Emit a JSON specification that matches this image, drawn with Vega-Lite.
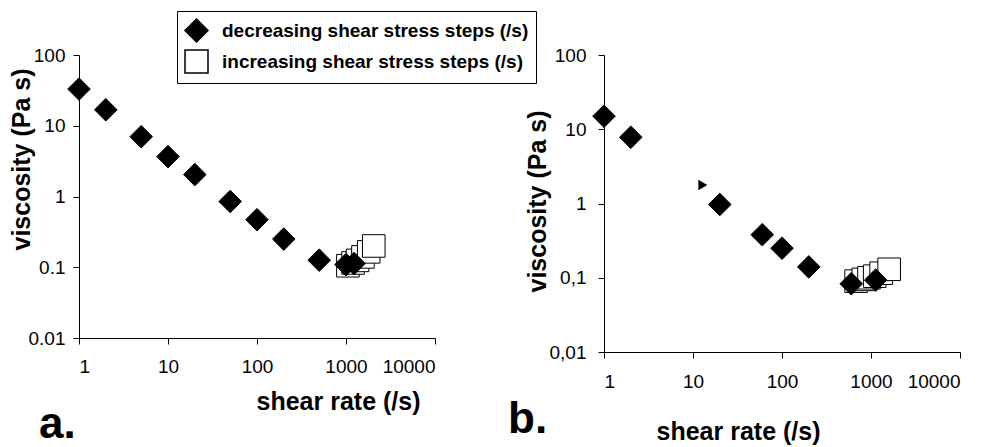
{
  "$schema": "https://vega.github.io/schema/vega-lite/v6.json",
  "background": "white",
  "padding": {"left": 8, "top": 10, "right": 4, "bottom": 0},
  "bounds": "flush",
  "spacing": 169,
  "resolve": {
    "scale": {"shape": "independent", "fill": "independent"},
    "legend": {"shape": "independent", "fill": "independent"}
  },
  "config": {
    "view": {"stroke": null},
    "font": "Liberation Sans",
    "axis": {
      "grid": false,
      "domainColor": "black",
      "tickColor": "black",
      "labelColor": "black",
      "titleColor": "black",
      "labelFont": "Liberation Sans",
      "titleFont": "Liberation Sans",
      "labelFontSize": 19,
      "titleFontSize": 25,
      "titleFontWeight": "bold",
      "tickSize": 6,
      "domainWidth": 1,
      "tickWidth": 1
    }
  },
  "datasets": {
    "a": [
      {"series": "increasing shear stress steps (/s)", "rate": 1050, "viscosity": 0.105},
      {"series": "increasing shear stress steps (/s)", "rate": 1200, "viscosity": 0.115},
      {"series": "increasing shear stress steps (/s)", "rate": 1350, "viscosity": 0.125},
      {"series": "increasing shear stress steps (/s)", "rate": 1550, "viscosity": 0.14},
      {"series": "increasing shear stress steps (/s)", "rate": 1800, "viscosity": 0.165},
      {"series": "increasing shear stress steps (/s)", "rate": 2050, "viscosity": 0.2},
      {"series": "decreasing shear stress steps (/s)", "rate": 1, "viscosity": 33},
      {"series": "decreasing shear stress steps (/s)", "rate": 2, "viscosity": 16.8},
      {"series": "decreasing shear stress steps (/s)", "rate": 5, "viscosity": 7.0},
      {"series": "decreasing shear stress steps (/s)", "rate": 10, "viscosity": 3.66},
      {"series": "decreasing shear stress steps (/s)", "rate": 20, "viscosity": 2.04},
      {"series": "decreasing shear stress steps (/s)", "rate": 50, "viscosity": 0.85},
      {"series": "decreasing shear stress steps (/s)", "rate": 100, "viscosity": 0.47},
      {"series": "decreasing shear stress steps (/s)", "rate": 200, "viscosity": 0.25},
      {"series": "decreasing shear stress steps (/s)", "rate": 500, "viscosity": 0.126},
      {"series": "decreasing shear stress steps (/s)", "rate": 1000, "viscosity": 0.109},
      {"series": "decreasing shear stress steps (/s)", "rate": 1230, "viscosity": 0.113}
    ],
    "b": [
      {"series": "increasing shear stress steps (/s)", "rate": 680, "viscosity": 0.09},
      {"series": "increasing shear stress steps (/s)", "rate": 820, "viscosity": 0.095},
      {"series": "increasing shear stress steps (/s)", "rate": 950, "viscosity": 0.1},
      {"series": "increasing shear stress steps (/s)", "rate": 1100, "viscosity": 0.105},
      {"series": "increasing shear stress steps (/s)", "rate": 1300, "viscosity": 0.115},
      {"series": "increasing shear stress steps (/s)", "rate": 1600, "viscosity": 0.13},
      {"series": "decreasing shear stress steps (/s)", "rate": 1, "viscosity": 15},
      {"series": "decreasing shear stress steps (/s)", "rate": 2, "viscosity": 7.8},
      {"series": "decreasing shear stress steps (/s)", "rate": 20, "viscosity": 0.97},
      {"series": "decreasing shear stress steps (/s)", "rate": 60, "viscosity": 0.38},
      {"series": "decreasing shear stress steps (/s)", "rate": 100, "viscosity": 0.25},
      {"series": "decreasing shear stress steps (/s)", "rate": 200, "viscosity": 0.14},
      {"series": "decreasing shear stress steps (/s)", "rate": 600, "viscosity": 0.083},
      {"series": "decreasing shear stress steps (/s)", "rate": 1130, "viscosity": 0.093}
    ],
    "bpartial": [
      {"rate": 12.9, "viscosity": 1.78}
    ]
  },
  "hconcat": [
    {
      "width": 356,
      "height": 283,
      "title": {"text": "a.", "orient": "bottom", "anchor": "start", "frame": "group", "fontSize": 44, "fontWeight": "bold", "font": "Liberation Sans", "color": "black", "dx": -40, "offset": -11},
      "data": {"name": "a"},
      "mark": {"type": "point", "filled": true, "opacity": 1, "stroke": "black", "strokeWidth": 1, "size": 510},
      "encoding": {
        "x": {"field": "rate", "type": "quantitative",
          "scale": {"type": "log", "domain": [1, 10000]},
          "axis": {"title": "shear rate (/s)", "values": [1, 10, 100, 1000, 10000], "format": "~g", "labelPadding": 13, "titleX": 259, "titleY": 51, "titleAlign": "center", "titleBaseline": "top"}},
        "y": {"field": "viscosity", "type": "quantitative",
          "scale": {"type": "log", "domain": [0.01, 100]},
          "axis": {"title": "viscosity (Pa s)", "values": [0.01, 0.1, 1, 10, 100], "format": "~g", "labelPadding": 8, "titleX": -58, "titleY": 104, "titleAlign": "center", "titleBaseline": "middle", "titleAngle": -90}},
        "shape": {"field": "series", "type": "nominal",
          "scale": {"domain": ["decreasing shear stress steps (/s)", "increasing shear stress steps (/s)"], "range": ["diamond", "square"]},
          "legend": {
            "title": null, "orient": "none", "legendX": 98, "legendY": -44,
            "strokeColor": "black", "padding": 7, "rowPadding": 2,
            "symbolSize": 529, "labelOffset": 13, "labelLimit": 400,
            "labelFont": "Liberation Sans", "labelFontSize": 19, "labelFontWeight": "bold", "labelColor": "black",
            "encode": {
              "symbols": {"update": {
                "stroke": {"value": "black"}, "strokeWidth": {"value": 1}, "opacity": {"value": 1},
                "size": {"signal": "datum.value === 'decreasing shear stress steps (/s)' ? 529 : 144"}
              }},
              "labels": {"update": {
                "dx": {"signal": "datum.value === 'decreasing shear stress steps (/s)' ? 8 : 0"}
              }}
            }
          }},
        "fill": {"field": "series", "type": "nominal",
          "scale": {"domain": ["decreasing shear stress steps (/s)", "increasing shear stress steps (/s)"], "range": ["black", "white"]},
          "legend": {
            "title": null, "orient": "none", "legendX": 98, "legendY": -44,
            "strokeColor": "black", "padding": 7, "rowPadding": 2,
            "symbolSize": 529, "labelOffset": 13, "labelLimit": 400,
            "labelFont": "Liberation Sans", "labelFontSize": 19, "labelFontWeight": "bold", "labelColor": "black",
            "encode": {
              "symbols": {"update": {
                "stroke": {"value": "black"}, "strokeWidth": {"value": 1}, "opacity": {"value": 1},
                "size": {"signal": "datum.value === 'decreasing shear stress steps (/s)' ? 529 : 144"}
              }},
              "labels": {"update": {
                "dx": {"signal": "datum.value === 'decreasing shear stress steps (/s)' ? 8 : 0"}
              }}
            }
          }}
      }
    },
    {
      "width": 356,
      "height": 297,
      "title": {"text": "b.", "orient": "bottom", "anchor": "start", "frame": "group", "fontSize": 44, "fontWeight": "bold", "font": "Liberation Sans", "color": "black", "dx": -96, "offset": -46},
      "layer": [
        {
          "data": {"name": "b"},
          "mark": {"type": "point", "filled": true, "opacity": 1, "stroke": "black", "strokeWidth": 1, "size": 510},
          "encoding": {
            "x": {"field": "rate", "type": "quantitative",
              "scale": {"type": "log", "domain": [1, 10000]},
              "axis": {"title": "shear rate (/s)", "values": [1, 10, 100, 1000, 10000], "format": "~g", "labelPadding": 14, "titleX": 134, "titleY": 67, "titleAlign": "center", "titleBaseline": "top"}},
            "y": {"field": "viscosity", "type": "quantitative",
              "scale": {"type": "log", "domain": [0.01, 100]},
              "axis": {"title": "viscosity (Pa s)", "values": [0.01, 0.1, 1, 10, 100], "format": "~g", "labelExpr": "replace(datum.label, '.', ',')", "labelPadding": 12, "titleX": -67, "titleY": 146, "titleAlign": "center", "titleBaseline": "middle", "titleAngle": -90}},
            "shape": {"field": "series", "type": "nominal",
              "scale": {"domain": ["decreasing shear stress steps (/s)", "increasing shear stress steps (/s)"], "range": ["diamond", "square"]},
              "legend": null},
            "fill": {"field": "series", "type": "nominal",
              "scale": {"domain": ["decreasing shear stress steps (/s)", "increasing shear stress steps (/s)"], "range": ["black", "white"]},
              "legend": null}
          }
        },
        {
          "data": {"name": "bpartial"},
          "mark": {"type": "point", "shape": "triangle-right", "filled": true, "opacity": 1, "color": "black", "size": 110},
          "encoding": {
            "x": {"field": "rate", "type": "quantitative"},
            "y": {"field": "viscosity", "type": "quantitative"}
          }
        }
      ]
    }
  ]
}
